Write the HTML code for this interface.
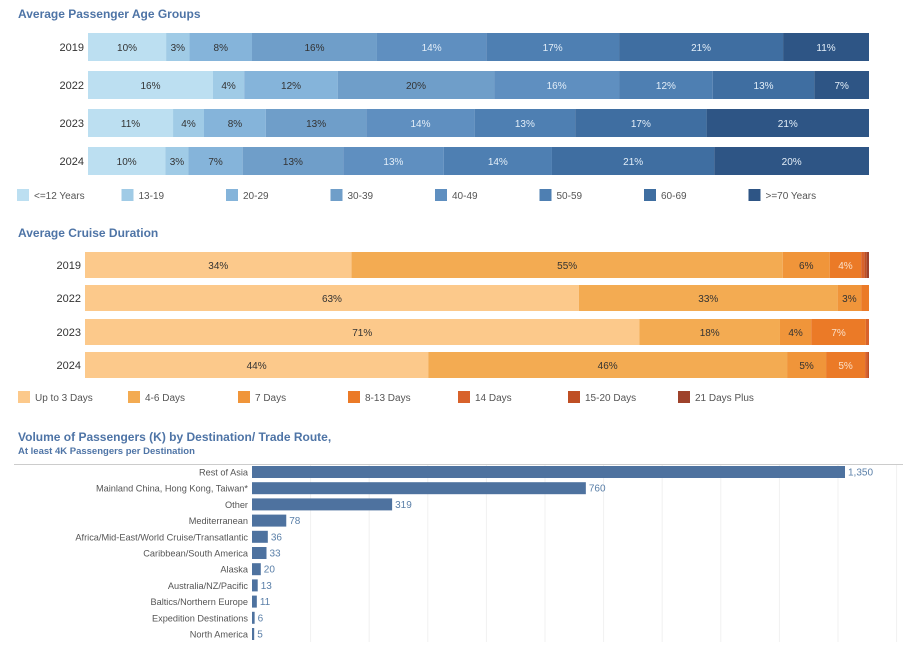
<!DOCTYPE html>
<html><head><meta charset="utf-8"><style>
body{margin:0;background:#fff;font-family:"Liberation Sans",sans-serif;}
svg text{font-family:"Liberation Sans",sans-serif;}
</style></head><body>
<svg id="c" width="903" height="642"></svg>
<script>
const ageYears=["2019","2022","2023","2024"];
const ageGroups=["<=12 Years","13-19","20-29","30-39","40-49","50-59","60-69",">=70 Years"];
const age2019=[10,3,8,16,14,17,21,11];
const age2022=[16,4,12,20,16,12,13,7];
const age2023=[11,4,8,13,14,13,17,21];
const age2024=[10,3,7,13,13,14,21,20];
const durYears=["2019","2022","2023","2024"];
const durGroups=["Up to 3 Days","4-6 Days","7 Days","8-13 Days","14 Days","15-20 Days","21 Days Plus"];
const dur2019=[34,55,6,4,0.4,0.3,0.3];
const dur2022=[63,33,3,1,0,0,0];
const dur2023=[71,18,4,7,0.4,0,0];
const dur2024=[44,46,5,5,0.3,0.2,0];
const destNames=["Rest of Asia","Mainland China, Hong Kong, Taiwan*","Other","Mediterranean","Africa/Mid-East/World Cruise/Transatlantic","Caribbean/South America","Alaska","Australia/NZ/Pacific","Baltics/Northern Europe","Expedition Destinations","North America"];
const destValues=[1350,760,319,78,36,33,20,13,11,6,5];
const destLabels=["1,350","760","319","78","36","33","20","13","11","6","5"];

const svg=document.getElementById('c');
const NS='http://www.w3.org/2000/svg';
function el(t,a,txt){const e=document.createElementNS(NS,t);for(const k in a)e.setAttribute(k,a[k]);if(txt!==undefined)e.textContent=txt;svg.appendChild(e);return e;}

let t=el('text',{x:18,y:18,'font-size':12,'font-weight':'bold',fill:'#4e74a6'},'Average Passenger Age Groups');

t=el('text',{x:18,y:237,'font-size':12,'font-weight':'bold',fill:'#4e74a6'},'Average Cruise Duration');

t=el('text',{x:18,y:441,'font-size':12,'font-weight':'bold',fill:'#4e74a6'},'Volume of Passengers (K) by Destination/ Trade Route,');

t=el('text',{x:18,y:454,'font-size':9.5,'font-weight':'bold',fill:'#4e74a6'},'At least 4K Passengers per Destination');


function stacked(rows,years,colors,textColors,x0,x1,ys,h,minLabel,nm){
  rows.forEach((vals,i)=>{
    const sum=vals.reduce((a,b)=>a+b,0);
    let x=x0;const y=ys[i];
    let yl=el('text',{x:x0-4,y:y+h/2+4,'font-size':11,'text-anchor':'end',fill:'#333'},years[i]);
    
    vals.forEach((v,j)=>{
      const w=v/sum*(x1-x0);
      const r=el('rect',{x:x,y:y,width:Math.max(w,0),height:h,fill:colors[j]});
      
      if(v>=minLabel){
        const tx=el('text',{x:x+w/2,y:y+h/2+4,'font-size':10,'text-anchor':'middle',fill:textColors[j]},Math.round(v)+'%');
        
      }
      x+=w;
    });
  });
}
const ageColors=['#bcdff1','#a0cbe6','#85b4da','#6f9ec9','#5f8fc0','#4e7fb2','#3f6ea1','#2e5585'];
const ageText=['#333','#333','#333','#333','#e3eef8','#e3eef8','#e3eef8','#e3eef8'];
stacked([age2019,age2022,age2023,age2024],ageYears,ageColors,ageText,88,869,[33,71,109,147],28,1,'age');
const durColors=['#fcc98b','#f3ab52','#f0953a','#eb7a27','#d8622b','#bf4f24','#9e422b'];
const durText=['#333','#333','#333','#fbe0c8','#fff','#fff','#fff'];
stacked([dur2019,dur2022,dur2023,dur2024],durYears,durColors,durText,85,869,[252,285,319,352],26,2,'duration');

function legend(items,colors,x0,step,y,nm){
  items.forEach((s,i)=>{
    const r=el('rect',{x:x0+i*step,y:y-6,width:12,height:12,fill:colors[i]});
    
    const tx=el('text',{x:x0+i*step+17,y:y+4,'font-size':10,fill:'#555'},s);
    
  });
}
legend(ageGroups,ageColors,17,104.5,195,'age');
legend(durGroups,durColors,18,110,397,'duration');

const bx0=252, scale=593/1350;
function xs(v){return bx0+v*scale;}
for(let g=1;g<=11;g++){
  const gx=bx0+g*58.6;
  const gl=el('line',{x1:gx,y1:465,x2:gx,y2:642,stroke:'#f1f1f1','stroke-width':1});
  
}
let ln=el('line',{x1:14,y1:464.5,x2:903,y2:464.5,stroke:'#ccc','stroke-width':1});

destNames.forEach((n,i)=>{
  const cy=472+i*16.2;
  const lb=el('text',{x:248,y:cy+3.5,'font-size':9.2,'text-anchor':'end',fill:'#555'},n);
  
  const r=el('rect',{x:bx0,y:cy-6,width:Math.max(xs(destValues[i])-bx0,2),height:12,fill:'#4e729f'});
  
  const vl=el('text',{x:Math.max(xs(destValues[i]),bx0+2)+3,y:cy+3.5,'font-size':10,fill:'#5a7fa8'},destLabels[i]);
  
});
</script>
</body></html>
